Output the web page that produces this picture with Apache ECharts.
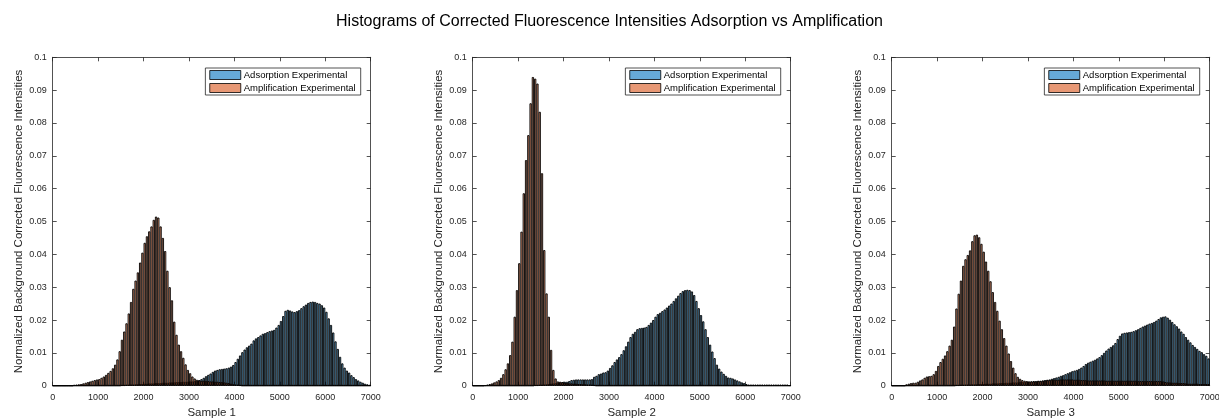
<!DOCTYPE html>
<html>
<head>
<meta charset="utf-8">
<title>Histograms of Corrected Fluorescence Intensities</title>
<script src="https://cdn.jsdelivr.net/npm/echarts@6/dist/echarts.min.js"></script>
<style>
  html, body { margin: 0; padding: 0; background: #fff; }
  #main { width: 1219px; height: 419px; }
</style>
</head>
<body>
<div id="main"></div>
<script>
// histogram bins: width 50, first bin starts at 0
var binStart = 0;
var binWidth = 50;
var sampleNames = ['Sample 1', 'Sample 2', 'Sample 3'];
var seriesNames = ['Adsorption Experimental', 'Amplification Experimental'];

// Sample 1
var ads1 = [
  0,0,0,0,0,0,0,0,0,0,
  0,0,0,0,0,0,0,0,0,0,
  0,0,0,0,0,0,0,0,0,0,
  .0001,.0001,.0002,.0002,.0003,.0003,.0004,.0004,.0005,.0005,
  .0006,.0006,.0007,.0007,.0007,.0008,.0008,.0008,.0009,.0009,
  .0009,.001,.001,.001,.0011,.0011,.0011,.0012,.0012,.0012,
  .0013,.0013,.0014,.0015,.0017,.002,.0024,.0029,.0033,.0037,
  .0042,.0046,.0048,.005,.0051,.0052,.0053,.0055,.0058,.0063,
  .0072,.0082,.0092,.0102,.011,.0117,.0122,.0128,.0138,.0144,
  .0148,.0153,.0158,.016,.0163,.0166,.0168,.017,.0177,.0185,
  .0197,.0212,.0228,.0231,.0229,.0226,.0224,.0227,.023,.0236,
  .0242,.0247,.0252,.0255,.0256,.0255,.0252,.025,.0245,.0238,
  .0225,.0205,.0185,.0162,.0135,.0112,.0088,.0068,.0055,.0046,
  .004,.0032,.0026,.002,.0016,.0012,.0009,.0006,.0004,.0002
];
var amp1 = [
  0,0,0,0,0,0,0,0,0,.0002,
  .0003,.0004,.0005,.0007,.0009,.0011,.0013,.0015,.0017,.0019,
  .002,.0024,.0028,.0033,.0039,.0045,.0053,.0064,.008,.0105,
  .014,.0165,.019,.022,.0255,.0295,.032,.0345,.0375,.0405,
  .0435,.0455,.047,.0485,.0505,.0515,.0512,.0485,.045,.041,
  .035,.03,.026,.0195,.0155,.0125,.0105,.0085,.0065,.0048,
  .0038,.0028,.0022,.0018,.0016,.0015,.0015,.0014,.0014,.0013,
  .0013,.0012,.0012,.0011,.0011,.001,.0009,.0008,.0006,.0004,
  .0003,.0002,.0001,0,0,0,0,0,0,0,
  0,0,0,0,0,0,0,0,0,0,
  0,0,0,0,0,0,0,0,0,0,
  0,0,0,0,0,0,0,0,0,0,
  0,0,0,0,0,0,0,0,0,0,
  0,0,0,0,0,0,0,0,0,0
];

// Sample 2
var ads2 = [
  0,0,0,0,0,0,0,0,0,0,
  0,0,0,0,0,0,0,0,0,0,
  0,0,0,0,0,0,0,.0001,.0001,.0002,
  .0002,.0003,.0004,.0005,.0006,.0007,.0008,.0009,.001,.0011,
  .0012,.0012,.0014,.0017,.0018,.0019,.0019,.0019,.0019,.0019,
  .0019,.0019,.002,.0027,.003,.0035,.0037,.004,.0041,.0046,
  .0054,.0062,.0072,.008,.0087,.0096,.0108,.012,.0134,.0148,
  .0158,.0164,.0172,.0175,.0176,.0177,.0179,.0185,.0192,.02,
  .021,.0218,.0222,.0227,.0232,.0238,.0244,.025,.0258,.0266,
  .0274,.0282,.0288,.0291,.0292,.0291,.0287,.0276,.0258,.0236,
  .0215,.0196,.0172,.0148,.0125,.0104,.0084,.0064,.0052,.0043,
  .0036,.003,.0025,.0024,.0022,.0019,.0016,.0013,.001,.0008,
  .0005,.0003,.0003,.0003,.0003,.0003,.0003,.0003,.0003,.0003,
  .0003,.0003,.0003,.0003,.0003,.0003,.0003,.0003,.0003,.0001
];
var amp2 = [
  0,0,0,0,0,.0001,.0003,.0005,.0007,.001,
  .0013,.0017,.0024,.0035,.005,.0068,.0093,.0134,.021,.0291,
  .0373,.0469,.0586,.0687,.0763,.086,.094,.0935,.092,.0834,
  .0647,.0413,.0281,.021,.0109,.0048,.0022,.0013,.0012,.0011,
  .0009,.0008,.0007,.0007,.0006,.0006,.0005,.0005,.0004,.0004,
  .0003,.0003,.0002,.0001,0,0,0,0,0,0,
  0,0,0,0,0,0,0,0,0,0,
  0,0,0,0,0,0,0,0,0,0,
  0,0,0,0,0,0,0,0,0,0,
  0,0,0,0,0,0,0,0,0,0,
  0,0,0,0,0,0,0,0,0,0,
  0,0,0,0,0,0,0,0,0,0,
  0,0,0,0,0,0,0,0,0,0,
  0,0,0,0,0,0,0,0,0,0
];

// Sample 3
var ads3 = [
  0,0,0,0,0,0,0,0,0,0,
  0,0,0,0,0,0,0,0,0,0,
  0,0,0,0,0,0,0,0,.0001,.0001,
  .0002,.0002,.0003,.0003,.0003,.0004,.0004,.0004,.0005,.0005,
  .0005,.0006,.0006,.0006,.0007,.0007,.0007,.0008,.0008,.0008,
  .0009,.0009,.0009,.001,.001,.001,.0011,.0011,.0011,.0012,
  .0012,.0013,.0014,.0014,.0015,.0015,.0016,.0017,.0018,.0019,
  .0021,.0023,.0025,.0027,.003,.0032,.0035,.0038,.0041,.0044,
  .0046,.0048,.0051,.0055,.006,.0066,.007,.0073,.0076,.0079,
  .0083,.0087,.0093,.01,.0107,.0113,.0118,.0123,.013,.0142,
  .0152,.0159,.0161,.0162,.0163,.0164,.0166,.0169,.0172,.0176,
  .018,.0183,.0186,.0189,.0191,.0194,.0198,.0203,.0208,.021,
  .0211,.0207,.0201,.0194,.0187,.0181,.0174,.0165,.0158,.0148,
  .014,.0132,.0124,.0118,.0112,.0106,.0102,.0096,.0091,.0083
];
var amp3 = [
  0,0,0,0,0,0,.0004,.0006,.0008,.0009,
  .0009,.0012,.0016,.0019,.0024,.0028,.0029,.003,.0035,.0045,
  .006,.0072,.0082,.0092,.0105,.0122,.014,.018,.0235,.028,
  .032,.0365,.0385,.0398,.0412,.044,.0458,.046,.0452,.0432,
  .0408,.0378,.035,.0318,.0285,.0255,.0228,.0198,.0172,.0145,
  .0122,.0098,.0075,.0055,.0038,.0027,.0021,.0017,.0015,.0014,
  .0013,.0013,.0013,.0013,.0014,.0014,.0015,.0016,.0017,.0017,
  .0018,.0018,.0018,.0018,.0019,.0019,.0019,.0019,.0019,.0019,
  .0018,.0018,.0018,.0017,.0017,.0017,.0016,.0016,.0016,.0016,
  .0016,.0016,.0016,.0016,.0015,.0015,.0015,.0015,.0015,.0015,
  .0015,.0015,.0015,.0015,.0015,.0015,.0015,.0015,.0014,.0014,
  .0014,.0014,.0014,.0014,.0014,.0014,.0014,.0014,.0014,.0013,
  .0011,.001,.001,.0009,.0009,.0009,.0008,.0008,.0008,.0007,
  .0006,.0006,.0006,.0006,.0006,.0005,.0005,.0005,.0005,.0005
];

var adsData = [ads1, ads2, ads3];
var ampData = [amp1, amp2, amp3];

var xMin = 0, xMax = 7000, xStep = 1000;
var yMin = 0, yMax = 0.1, yStep = 0.01;

var gridLeft = [52.7, 472.7, 891.7];
var gridTop = 57.3, gridW = 318, gridH = 328.4;
var axisColor = '#262626';
var blue = 'rgba(0,114,189,0.6)';
var orange = 'rgba(217,83,25,0.6)';
var font = 'Liberation Sans';

function toPairs(vals) {
  return vals.map(function (v, i) {
    return [binStart + binWidth * (i + 0.5), v];
  });
}

var barW = gridW / ((xMax - xMin) / binWidth);

var grids = [], xAxes = [], yAxes = [], series = [], legends = [];
var lineStyle = { color: axisColor, width: 0.8 };

// mirrored axis for the box (top / right), ticks only
function boxAxis(k, pos, min, max, step) {
  return {
    gridIndex: k, type: 'value', position: pos,
    min: min, max: max, interval: step,
    axisLine: { show: true, onZero: false, lineStyle: lineStyle },
    axisTick: { show: true, inside: true, length: 4, lineStyle: lineStyle },
    axisLabel: { show: false }, splitLine: { show: false }
  };
}

for (var k = 0; k < 3; k++) {
  grids.push({
    left: gridLeft[k], top: gridTop, width: gridW, height: gridH,
    containLabel: false, outerBoundsMode: 'none'
  });

  xAxes.push({
    gridIndex: k, type: 'value', position: 'bottom',
    min: xMin, max: xMax, interval: xStep,
    axisLine: { show: true, onZero: false, lineStyle: lineStyle },
    axisTick: { show: true, inside: true, length: 4, lineStyle: lineStyle },
    axisLabel: {
      fontSize: 9, color: axisColor, margin: 7, fontFamily: font,
      formatter: function (v) { return String(v); }
    },
    splitLine: { show: false },
    name: sampleNames[k], nameLocation: 'middle', nameGap: 20,
    nameTextStyle: { fontSize: 11.5, color: axisColor, fontFamily: font }
  });
  xAxes.push(boxAxis(k, 'top', xMin, xMax, xStep));

  yAxes.push({
    gridIndex: k, type: 'value', position: 'left',
    min: yMin, max: yMax, interval: yStep,
    axisLine: { show: true, onZero: false, lineStyle: lineStyle },
    axisTick: { show: true, inside: true, length: 4, lineStyle: lineStyle },
    axisLabel: { fontSize: 9, color: axisColor, margin: 6, fontFamily: font },
    splitLine: { show: false },
    name: 'Normalized Background Corrected Fluorescence Intensities',
    nameLocation: 'middle', nameGap: 28,
    nameTextStyle: { fontSize: 11.5, color: axisColor, fontFamily: font }
  });
  yAxes.push(boxAxis(k, 'right', yMin, yMax, yStep));

  series.push({
    name: seriesNames[0], type: 'bar',
    xAxisIndex: 2 * k, yAxisIndex: 2 * k,
    data: toPairs(adsData[k]),
    barWidth: barW, barGap: '-100%',
    itemStyle: { color: blue, borderColor: '#000', borderWidth: 0.9 },
    emphasis: { disabled: true }
  });
  series.push({
    name: seriesNames[1], type: 'bar',
    xAxisIndex: 2 * k, yAxisIndex: 2 * k,
    data: toPairs(ampData[k]),
    barWidth: barW, barGap: '-100%',
    itemStyle: { color: orange, borderColor: '#000', borderWidth: 0.9 },
    emphasis: { disabled: true }
  });

  legends.push({
    data: seriesNames,
    orient: 'vertical',
    right: 1219 - (gridLeft[k] + gridW) + 10,
    top: 68,
    icon: 'rect',
    itemWidth: 31, itemHeight: 9, itemGap: 3,
    padding: [2, 5, 2, 4],
    backgroundColor: '#fff',
    borderColor: axisColor, borderWidth: 0.8, borderRadius: 0,
    selectedMode: false,
    itemStyle: { borderColor: '#000', borderWidth: 0.8 },
    textStyle: { fontSize: 9.5, color: '#000', padding: [0, 0, 0, -2], fontFamily: font }
  });
}

var myChart = echarts.init(document.getElementById('main'), null, { renderer: 'canvas' });
myChart.setOption({
  animation: false,
  backgroundColor: '#fff',
  title: {
    text: 'Histograms of Corrected Fluorescence Intensities Adsorption vs Amplification',
    left: 'center', top: 9,
    textStyle: { fontSize: 16, fontWeight: 'normal', color: '#000', fontFamily: font }
  },
  legend: legends,
  grid: grids,
  xAxis: xAxes,
  yAxis: yAxes,
  series: series
});
</script>
</body>
</html>
